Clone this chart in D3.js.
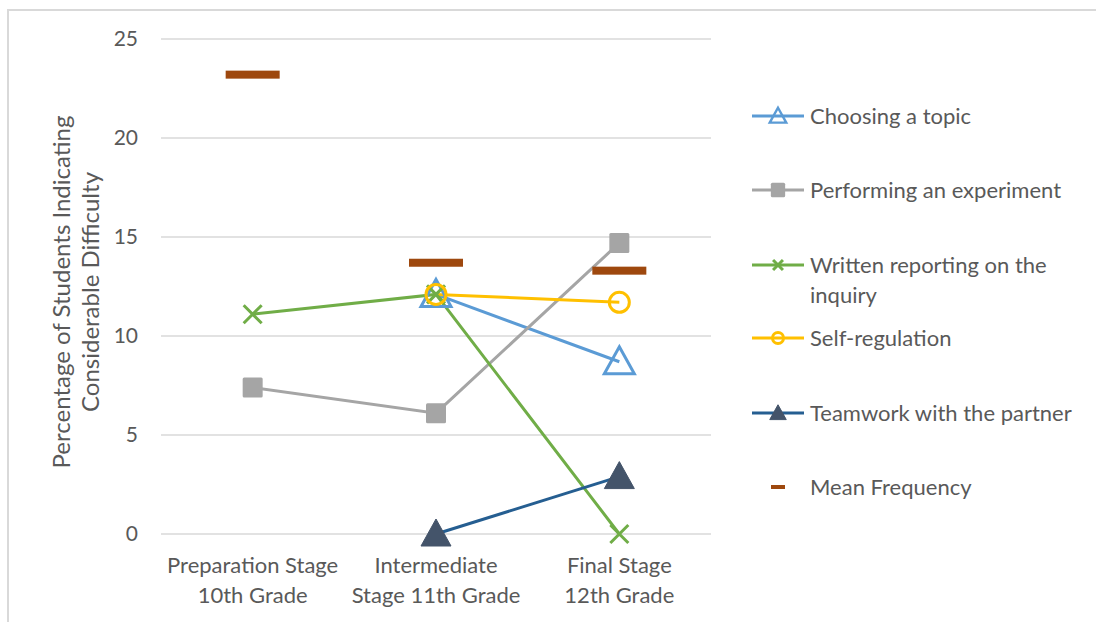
<!DOCTYPE html>
<html>
<head>
<meta charset="utf-8">
<script src="https://cdn.jsdelivr.net/npm/d3@7"></script>
<style>
  body { margin: 0; background: #fff; }
  svg text { font-family: Lato, "Noto Sans", sans-serif; fill: #595959; }
</style>
</head>
<body>
<div id="chart"></div>
<script>
const stages = [
  ['Preparation Stage', '10th Grade'],
  ['Intermediate', 'Stage 11th Grade'],
  ['Final Stage', '12th Grade']
];
const yTicks = [0, 5, 10, 15, 20, 25];

const choosingTopic = [null, 12.1, 8.7];
const performingExperiment = [7.4, 6.1, 14.7];
const writtenReporting = [11.1, 12.1, 0];
const selfRegulation = [null, 12.1, 11.7];
const teamwork = [null, 0, 2.9];
const meanFrequency = [23.2, 13.7, 13.3];

const series = [
  { name: ['Choosing a topic'], values: choosingTopic, color: '#5b9bd5', marker: 'triOpen' },
  { name: ['Performing an experiment'], values: performingExperiment, color: '#a5a5a5', marker: 'square' },
  { name: ['Written reporting on the', 'inquiry'], values: writtenReporting, color: '#70ad47', marker: 'x' },
  { name: ['Self-regulation'], values: selfRegulation, color: '#ffc000', marker: 'circle' },
  { name: ['Teamwork with the partner'], values: teamwork, color: '#255e91', fill: '#44546a', marker: 'triFill' },
  { name: ['Mean Frequency'], values: meanFrequency, color: '#9e480e', marker: 'dash' }
];

const width = 1096, height = 622;
const svg = d3.select('#chart').append('svg')
  .attr('width', width)
  .attr('height', height);

// frame
svg.append('path')
  .attr('d', `M8,${height} V10 H${width}`)
  .attr('fill', 'none')
  .attr('stroke', '#d9d9d9')
  .attr('stroke-width', 2);

const x = d3.scaleBand().domain(d3.range(stages.length)).range([161, 711]);
const y = d3.scaleLinear().domain([0, 25]).range([534, 39]);
const cx = i => x(i) + x.bandwidth() / 2;

// gridlines
svg.append('g')
  .selectAll('line')
  .data(yTicks)
  .join('line')
    .attr('x1', 161).attr('x2', 711)
    .attr('y1', d => y(d)).attr('y2', d => y(d))
    .attr('stroke', '#d9d9d9')
    .attr('stroke-width', 1.3);

// y tick labels
svg.append('g')
  .selectAll('text')
  .data(yTicks)
  .join('text')
    .attr('x', 138)
    .attr('y', d => y(d))
    .attr('dy', '0.35em')
    .attr('text-anchor', 'end')
    .style('font-size', '21px')
    .text(d => d);

// x labels
const xl = svg.append('g')
  .selectAll('text')
  .data(stages)
  .join('text')
    .attr('x', (d, i) => cx(i))
    .attr('y', 573)
    .attr('text-anchor', 'middle')
    .style('font-size', '22px');
xl.selectAll('tspan')
  .data(d => d)
  .join('tspan')
    .attr('x', function() { return this.parentNode.getAttribute('x'); })
    .attr('dy', (d, i) => i ? 30 : 0)
    .text(d => d);

// y axis title
const yt = svg.append('text')
  .attr('transform', 'translate(70,292) rotate(-90)')
  .attr('text-anchor', 'middle')
  .style('font-size', '24px');
yt.append('tspan').attr('x', 0).attr('dy', 0).text('Percentage of Students Indicating');
yt.append('tspan').attr('x', 0).attr('dy', 29).text('Considerable Difficulty');

function drawMarker(g, s, big) {
  const k = big ? 1 : 0.55;
  if (s.marker === 'triOpen' || s.marker === 'triFill') {
    const r = 15 * k;
    g.append('path')
      .attr('d', `M0,${-r} L${r},${r * 0.8} L${-r},${r * 0.8} Z`)
      .attr('fill', s.marker === 'triFill' ? s.fill : '#fff')
      .attr('fill-opacity', s.marker === 'triFill' ? 1 : 0)
      .attr('stroke', s.marker === 'triFill' ? s.fill : s.color)
      .attr('stroke-width', s.marker === 'triFill' ? 1 : 3 * (big ? 1 : 0.8));
  } else if (s.marker === 'square') {
    const r = 10 * k * (big ? 1 : 1.3);
    g.append('rect')
      .attr('x', -r).attr('y', -r)
      .attr('width', 2 * r).attr('height', 2 * r)
      .attr('rx', 1.5)
      .attr('fill', s.color);
  } else if (s.marker === 'x') {
    const r = 9 * k;
    g.append('path')
      .attr('d', `M${-r},${-r} L${r},${r} M${-r},${r} L${r},${-r}`)
      .attr('stroke', s.color)
      .attr('stroke-width', 3);
  } else if (s.marker === 'circle') {
    g.append('circle')
      .attr('r', 10 * k)
      .attr('fill', 'none')
      .attr('stroke', s.color)
      .attr('stroke-width', 3);
  } else if (s.marker === 'dash') {
    const w = big ? 27 : 7, h = big ? 4 : 2;
    g.append('rect')
      .attr('x', -w).attr('y', -h)
      .attr('width', 2 * w).attr('height', 2 * h)
      .attr('fill', s.color);
  }
}

// lines
const line = d3.line()
  .defined(d => d != null)
  .x((d, i) => cx(i))
  .y(d => y(d));

const plot = svg.append('g');
series.filter(s => s.marker !== 'dash').forEach(s => {
  plot.append('path')
    .datum(s.values)
    .attr('d', line)
    .attr('fill', 'none')
    .attr('stroke', s.color)
    .attr('stroke-width', 3);
});

// markers, mean first so it sits below
const order = [5, 1, 4, 0, 2, 3];
order.forEach(si => {
  const s = series[si];
  s.values.forEach((v, i) => {
    if (v == null) return;
    const g = plot.append('g').attr('transform', `translate(${cx(i)},${y(v)})`);
    drawMarker(g, s, true);
  });
});

// legend
const legendY = [116, 190, 265, 338, 413, 487];
const legend = svg.append('g');
series.forEach((s, i) => {
  const g = legend.append('g').attr('transform', `translate(0,${legendY[i]})`);
  if (s.marker !== 'dash') {
    g.append('line')
      .attr('x1', 752).attr('x2', 804)
      .attr('stroke', s.color)
      .attr('stroke-width', 3);
  }
  const mg = g.append('g').attr('transform', 'translate(778,0)');
  drawMarker(mg, s, false);
  const t = g.append('text')
    .attr('x', 810)
    .style('font-size', '22px');
  s.name.forEach((n, j) => {
    t.append('tspan').attr('x', 810).attr('dy', j ? 30 : '0.35em').text(n);
  });
});
</script>
</body>
</html>
